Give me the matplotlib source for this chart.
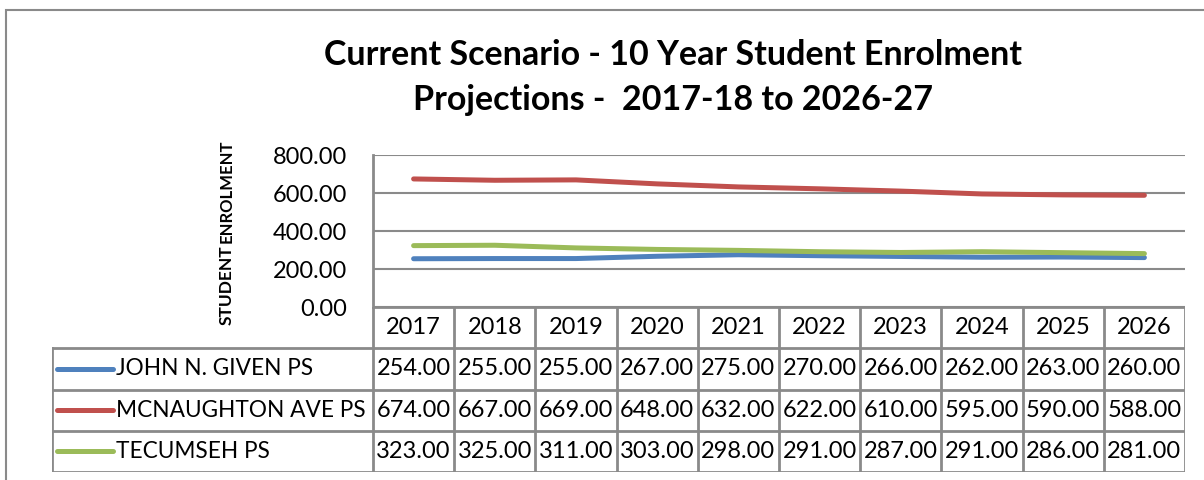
import matplotlib
matplotlib.use('Agg')
import matplotlib.pyplot as plt
from matplotlib.patches import Rectangle

# data
years = ['2017', '2018', '2019', '2020', '2021', '2022', '2023', '2024', '2025', '2026']
schools = ['JOHN N. GIVEN PS', 'MCNAUGHTON AVE PS', 'TECUMSEH PS']
john_given = [254, 255, 255, 267, 275, 270, 266, 262, 263, 260]
mcnaughton = [674, 667, 669, 648, 632, 622, 610, 595, 590, 588]
tecumseh = [323, 325, 311, 303, 298, 291, 287, 291, 286, 281]
series = [john_given, mcnaughton, tecumseh]
colors = ['#4F81BD', '#C0504D', '#9BBB59']
yticks = [0, 200, 400, 600, 800]

W, H = 1204, 480
FONT = 'Lato'
GRAY = '#8a8a8a'
plt.rcParams['font.family'] = [FONT, 'DejaVu Sans']

def fx(px):
    return px / W

def fy(py):
    return 1 - py / H

fig = plt.figure(figsize=(W / 100, H / 100), dpi=100)
fig.patch.set_facecolor('white')

# outer chart border (cropped on right/bottom)
fig.patches.append(Rectangle((fx(6), -0.1), 1.2, fy(10) + 0.1, transform=fig.transFigure,
                             fill=False, edgecolor=GRAY, linewidth=1.5))

# plot area
L, R, T, B = 373, 1185, 155, 307
ax = fig.add_axes([fx(L), fy(B), fx(R - L), (B - T) / H])
x = list(range(len(years)))
for vals, c in zip(series, colors):
    ax.plot(x, vals, color=c, linewidth=3.6, solid_capstyle='round')
ax.set_xlim(-0.5, len(years) - 0.5)
ax.set_ylim(0, 800)
ax.set_yticks(yticks)
ax.set_yticklabels(['%.2f' % v for v in yticks], fontsize=17)
ax.tick_params(axis='y', length=0, pad=18.5)
ax.set_xticks([])
ax.grid(axis='y', color=GRAY, linewidth=1.5)
ax.set_axisbelow(True)
for s in ['top', 'right', 'bottom']:
    ax.spines[s].set_visible(False)
ax.spines['left'].set_color(GRAY)
ax.spines['left'].set_linewidth(2)

# y label: small caps look
fig.text(fx(232), fy(325), 'STUDENT', rotation=90, rotation_mode='anchor',
         ha='left', va='baseline', fontsize=12.5, fontweight='bold')
fig.text(fx(232), fy(243), 'ENROLMENT', rotation=90, rotation_mode='anchor',
         ha='left', va='baseline', fontsize=12, fontweight='bold')

# title
fig.text(fx(673), fy(65), 'Current Scenario - 10 Year Student Enrolment', ha='center',
         va='baseline', fontsize=24.5, fontweight='bold')
fig.text(fx(673), fy(110), 'Projections -  2017-18 to 2026-27', ha='center',
         va='baseline', fontsize=24.5, fontweight='bold')

# data table
TL, TB = 52, 472
colw = (R - L) / len(years)
xleft = -0.5 - (L - TL) / colw
tab = fig.add_axes([fx(TL), fy(TB), fx(R - TL), (TB - B) / H])
tab.set_xlim(xleft, len(years) - 0.5)
tab.set_ylim(4, 0)
tab.axis('off')
lw = 2
tab.plot([-0.5, len(years) - 0.5], [0, 0], color=GRAY, linewidth=lw)
for r in range(1, 5):
    tab.plot([xleft, len(years) - 0.5], [r, r], color=GRAY, linewidth=lw)
for i in range(len(years) + 1):
    tab.plot([i - 0.5, i - 0.5], [0, 4], color=GRAY, linewidth=lw)
tab.plot([xleft, xleft], [1, 4], color=GRAY, linewidth=lw)

for i, yr in enumerate(years):
    tab.text(i, 0.5, yr, ha='center', va='center', fontsize=17)
for r, (name, vals, c) in enumerate(zip(schools, series, colors)):
    yc = r + 1.5
    lx0 = xleft + (57 - TL) / colw
    lx1 = xleft + (113 - TL) / colw
    tab.plot([lx0, lx1], [yc, yc], color=c, linewidth=3.6, solid_capstyle='round')
    tab.text(xleft + (116 - TL) / colw, yc, name, ha='left', va='center', fontsize=16.3)
    for i, v in enumerate(vals):
        tab.text(i, yc, '%.2f' % v, ha='center', va='center', fontsize=17)

fig.savefig('out.png', dpi=100, facecolor='white')
